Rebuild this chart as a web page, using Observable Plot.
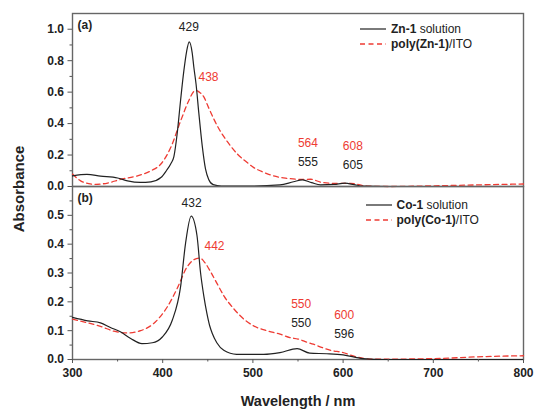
<!DOCTYPE html>
<html><head><meta charset="utf-8">
<script src="https://cdn.jsdelivr.net/npm/d3@7"></script>
<script src="https://cdn.jsdelivr.net/npm/@observablehq/plot@0.6"></script>
<style>
html,body{margin:0;padding:0;background:#fff;}
#chart{position:relative;width:534px;height:409px;font-family:"Liberation Sans",Arial,sans-serif;color:#222;overflow:hidden;}
#chart svg.panel{position:absolute;left:0;}
.abs{position:absolute;white-space:nowrap;}
.leg{font-size:12px;line-height:14px;transform:translateY(-50%);}
.ytitle{font-size:15px;font-weight:bold;transform:translate(-50%,-50%) rotate(-90deg);}
.xtitle{font-size:14.5px;font-weight:bold;transform:translate(-50%,-50%);}
</style></head>
<body><div id="chart"></div>
<script>
// ---------- data ----------
const znSolNm  = [300,316,331,350,361,375,387,398,404,409,412.4,416,419.8,423.5,426.4,429.4,432.7,434.5,437,440,443.8,447.5,451,456,465,500,530,545,555,565,575,590,602,612,622,650,700,800];
const znSolAbs = [0.068,0.077,0.066,0.054,0.036,0.026,0.030,0.057,0.10,0.145,0.19,0.334,0.547,0.738,0.855,0.92,0.85,0.76,0.65,0.47,0.26,0.11,0.045,0.012,0.003,0.003,0.01,0.03,0.042,0.025,0.01,0.013,0.021,0.012,0.002,0,0,0];

const znPolyNm  = [300,309,318,326,339,353,372,387,398,409,420,429,434.5,437,441,445.6,451,456.6,462,468,475,483,492,501,512,523,538,548,556,564,575,590,608,626,650,700,755,800];
const znPolyAbs = [0.079,0.036,0.018,0.014,0.022,0.045,0.068,0.10,0.143,0.249,0.419,0.547,0.604,0.61,0.598,0.57,0.50,0.43,0.37,0.315,0.26,0.205,0.16,0.12,0.09,0.067,0.052,0.046,0.045,0.046,0.028,0.02,0.02,0.003,0,0.004,0.011,0.016];

const coSolNm  = [300,317,331,342,353,364.5,377,388.5,399.6,410.6,419.8,425.3,431.6,438,442,445.6,449,452,455,460,467.7,482,512,530,549,563,582,600,622,645,700,800];
const coSolAbs = [0.146,0.134,0.127,0.111,0.096,0.073,0.055,0.058,0.078,0.136,0.252,0.402,0.497,0.43,0.30,0.22,0.16,0.118,0.09,0.058,0.032,0.018,0.018,0.024,0.038,0.022,0.02,0.016,0.003,0,0,0];

const coPolyNm  = [300,317,331,346,361,375.5,390,405,416,427,434,441,447,453,460,468,479,490,500,515,530,541,550,560,567,578,589,597,615,634,700,755,800];
const coPolyAbs = [0.14,0.127,0.115,0.098,0.092,0.10,0.125,0.182,0.246,0.321,0.345,0.352,0.335,0.305,0.265,0.22,0.175,0.14,0.118,0.10,0.088,0.076,0.071,0.06,0.053,0.04,0.03,0.026,0.009,0.001,0.003,0.01,0.013];

// peak annotations: text, wavelength anchor, absorbance anchor
const peakTextA  = ["429","438","564","555","608","605"];
const peakNmA    = [429,450.8,561,561,610.8,610.8];
const peakAbsA   = [1.011,0.696,0.274,0.153,0.255,0.138];
const peakRedA   = [false,true,true,false,true,false];

const peakTextB  = ["432","442","550","550","600","596"];
const peakNmB    = [432,457.4,553.5,553.5,601.2,601.2];
const peakAbsB   = [0.541,0.394,0.192,0.127,0.153,0.088];
const peakRedB   = [false,true,true,false,true,false];

const xMajor = [300,400,500,600,700,800];
const xMinor = [350,450,550,650,750];
const yMajorA = [0,0.2,0.4,0.6,0.8,1.0];
const yMinorA = [0.1,0.3,0.5,0.7,0.9];
const yMajorB = [0,0.1,0.2,0.3,0.4,0.5];
const yMinorB = [0.05,0.15,0.25,0.35,0.45,0.55];

// ---------- styling ----------
const RED = "#ee3b33", BLACK = "#222", AXIS = "#555";
const FONT = "'Liberation Sans', Arial, sans-serif";

const toRows = (nm, v) => nm.map((d, i) => ({nm: d, v: v[i]}));
const toLabels = (t, nm, v, red) => t.map((d, i) => ({t: d, nm: nm[i], v: v[i], red: red[i]}));

function panel({yDomain, major, minor, sol, poly, labels, tag, showX, height, marginTop, marginBottom}) {
  const marks = [
    Plot.frame({stroke: "#666", strokeWidth: 1.4}),
    Plot.axisY(major, {tickSize: 4.5, tickPadding: 4, tickFormat: d => d.toFixed(1), stroke: AXIS, fill: BLACK, label: null}),
    Plot.axisY(minor, {tickSize: 2.5, tickFormat: () => "", stroke: AXIS, label: null}),
    Plot.line(poly, {x: "nm", y: "v", stroke: RED, strokeWidth: 1.3, strokeDasharray: "5,3.5", curve: "monotone-x"}),
    Plot.line(sol, {x: "nm", y: "v", stroke: BLACK, strokeWidth: 1.2, curve: "monotone-x"}),
    Plot.text(labels.filter(d => d.red), {x: "nm", y: "v", text: "t", fill: RED, fontWeight: "normal", fontSize: 12}),
    Plot.text(labels.filter(d => !d.red), {x: "nm", y: "v", text: "t", fill: BLACK, fontWeight: "normal", fontSize: 12}),
    Plot.text([tag], {frameAnchor: "top-left", dx: 5, dy: 12, lineAnchor: "middle", textAnchor: "start", fill: BLACK, fontWeight: "bold", fontSize: 12})
  ];
  if (showX) {
    marks.push(Plot.axisX(xMajor, {tickSize: 4, tickPadding: 5, tickFormat: d => String(d), stroke: AXIS, fill: BLACK, label: null}));
    marks.push(Plot.axisX(xMinor, {tickSize: 2.5, tickFormat: () => "", stroke: AXIS, label: null}));
  }
  const svg = Plot.plot({
    width: 534, height, marginLeft: 72, marginRight: 11, marginTop, marginBottom,
    x: {domain: [300, 800], label: null, axis: showX ? undefined : null},
    y: {domain: yDomain, label: null},
    style: {fontFamily: FONT, fontSize: "12px", fontWeight: "bold", color: BLACK, background: "transparent", overflow: "visible"},
    marks
  });
  svg.classList.add("panel");
  return svg;
}

const chart = document.getElementById("chart");
const pa = panel({yDomain: [0, 1.1], major: yMajorA, minor: yMinorA,
  sol: toRows(znSolNm, znSolAbs), poly: toRows(znPolyNm, znPolyAbs),
  labels: toLabels(peakTextA, peakNmA, peakAbsA, peakRedA), tag: "(a)",
  showX: false, height: 186, marginTop: 13, marginBottom: 0});
pa.style.top = "0px";
const pb = panel({yDomain: [0, 0.6], major: yMajorB, minor: yMinorB,
  sol: toRows(coSolNm, coSolAbs), poly: toRows(coPolyNm, coPolyAbs),
  labels: toLabels(peakTextB, peakNmB, peakAbsB, peakRedB), tag: "(b)",
  showX: true, height: 223, marginTop: 0, marginBottom: 50});
pb.style.top = "186px";
chart.appendChild(pa);
chart.appendChild(pb);

// ---------- legends (inside each panel) ----------
function legendRow(left, top, lineW, dashed, boldPart, plainPart) {
  const sw = document.createElement("div");
  sw.className = "abs";
  sw.style.left = left + "px"; sw.style.top = (top - 2) + "px";
  sw.innerHTML = `<svg width="${lineW}" height="4" style="display:block"><line x1="0" x2="${lineW}" y1="2" y2="2" stroke="${dashed ? RED : BLACK}" stroke-width="${dashed ? 1.3 : 1.2}" ${dashed ? 'stroke-dasharray="5,3.5"' : ''}/></svg>`;
  chart.appendChild(sw);
  const tx = document.createElement("div");
  tx.className = "abs leg";
  tx.style.left = (left + lineW + 5) + "px"; tx.style.top = top + "px";
  tx.innerHTML = `<b>${boldPart}</b>${plainPart}`;
  chart.appendChild(tx);
}
legendRow(360, 29, 26, false, "Zn-1", " solution");
legendRow(360, 43.5, 26, true, "poly(Zn-1)", "/ITO");
legendRow(365.5, 204.5, 26, false, "Co-1", " solution");
legendRow(365.5, 220, 26, true, "poly(Co-1)", "/ITO");

// ---------- axis titles ----------
const yt = document.createElement("div");
yt.className = "abs ytitle"; yt.style.left = "18px"; yt.style.top = "189px";
yt.textContent = "Absorbance";
chart.appendChild(yt);
const xt = document.createElement("div");
xt.className = "abs xtitle"; xt.style.left = "298px"; xt.style.top = "401px";
xt.textContent = "Wavelength / nm";
chart.appendChild(xt);
</script>
</body></html>
